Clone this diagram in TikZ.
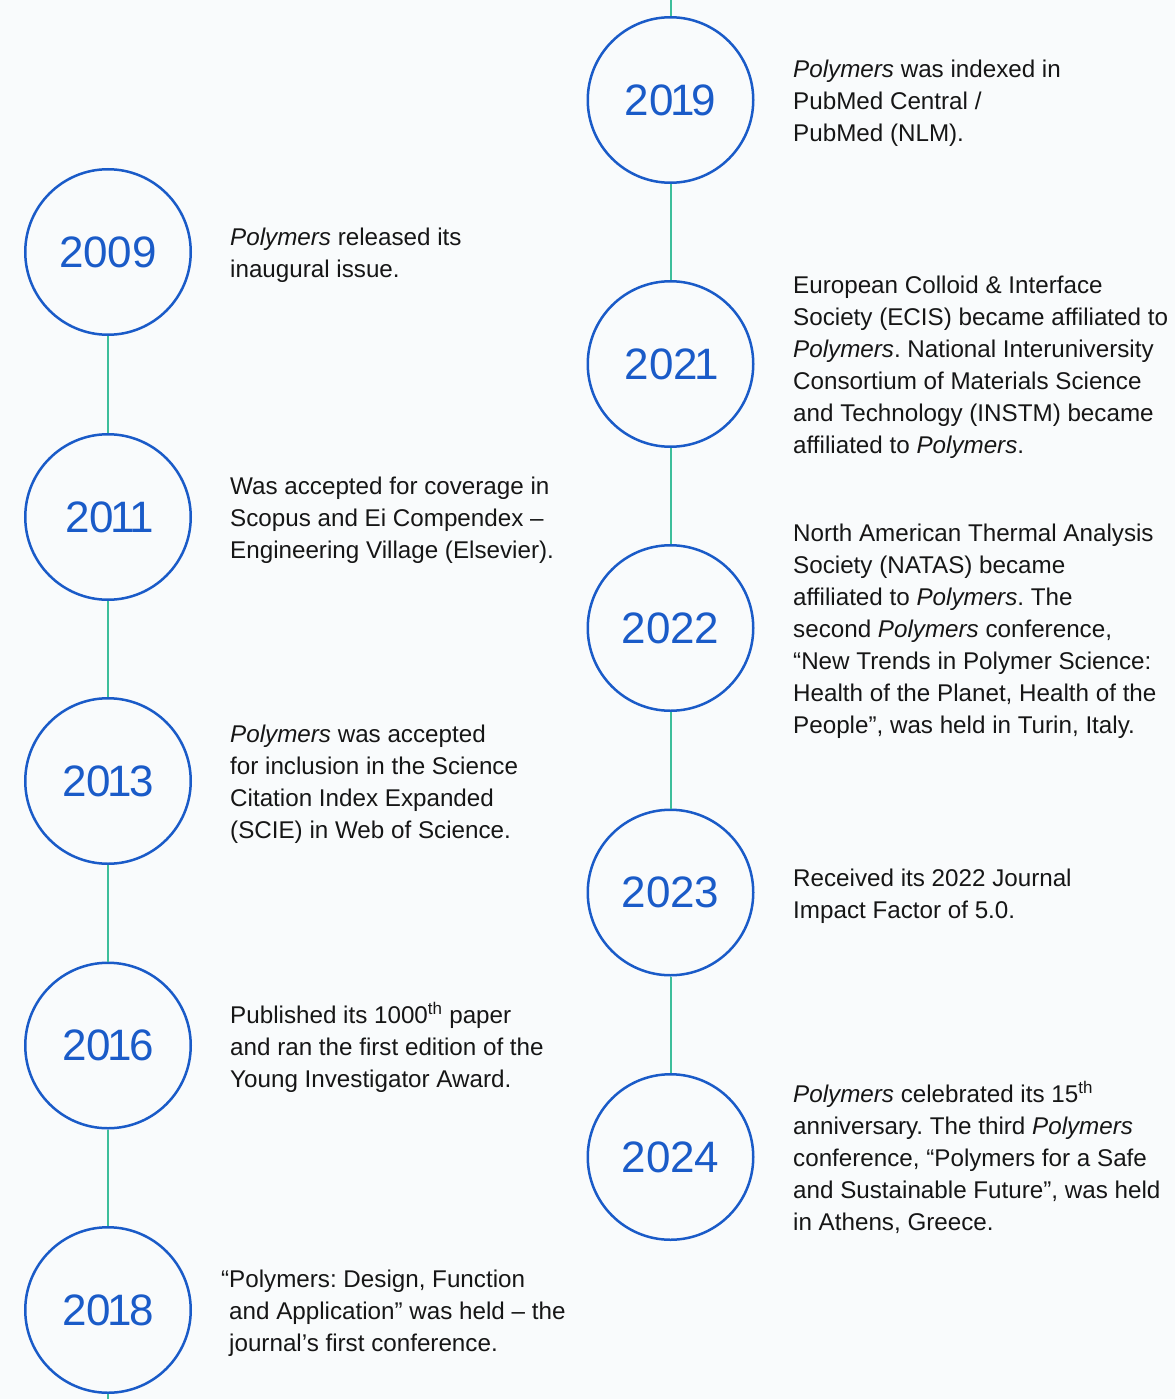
\documentclass[tikz,border=0pt]{standalone}
\usepackage{fontspec}
\setmainfont{Liberation Sans}
\frenchspacing
\definecolor{bg}{HTML}{F9FBFC}
\definecolor{ringblue}{HTML}{1A5BC8}
\definecolor{linkteal}{HTML}{3DBE9B}
\definecolor{ink}{HTML}{161616}
\newcommand\yone{\kern-3pt1\kern-3pt}
\begin{document}
\begin{tikzpicture}[x=1pt,y=-1pt,
  year/.style={circle, draw=ringblue, line width=2.5pt, minimum size=165.5pt, inner sep=0pt, text=ringblue, font=\fontsize{44}{50}\selectfont},
  desc/.style={anchor=west, align=left, text=ink, inner sep=0pt, yshift=-3.5pt, font=\fontsize{24.2}{32}\selectfont\frenchspacing},
  link/.style={draw=linkteal, line width=2pt}]
\fill[bg] (0,0) rectangle (1175,1399);
\useasboundingbox (0,0) rectangle (1175,1399);

% left column
\node[year] (y2009) at (108,252) {2009};
\node[year] (y2011) at (108,517) {20\yone\yone};
\node[year] (y2013) at (108,781) {20\yone3};
\node[year] (y2016) at (108,1045.5) {20\yone6};
\node[year] (y2018) at (108,1310) {20\yone8};

% right column
\node[year] (y2019) at (670.5,100) {20\yone9};
\node[year] (y2021) at (670.5,364) {202\yone};
\node[year] (y2022) at (670.5,628) {2022};
\node[year] (y2023) at (670.5,892.5) {2023};
\node[year] (y2024) at (670.5,1157) {2024};

\coordinate (topR) at (670.5,0);
\coordinate (botL) at (108,1399);

\draw[link] (y2009) -- (y2011);
\draw[link] (y2011) -- (y2013);
\draw[link] (y2013) -- (y2016);
\draw[link] (y2016) -- (y2018);
\draw[link] (y2018) -- (botL);
\draw[link] (topR) -- (y2019);
\draw[link] (y2019) -- (y2021);
\draw[link] (y2021) -- (y2022);
\draw[link] (y2022) -- (y2023);
\draw[link] (y2023) -- (y2024);

% descriptions left
\node[desc] (t2009) at (230,252) {\strut\textit{Polymers} released its\\inaugural issue.\strut};
\node[desc] (t2011) at (230,517) {\strut Was accepted for coverage in\\Scopus and Ei Compendex –\\Engineering Village (Elsevier).\strut};
\node[desc] (t2013) at (230,781) {\strut\textit{Polymers} was accepted\\for inclusion in the Science\\Citation Index Expanded\\(SCIE) in Web of Science.\strut};
\node[desc] (t2016) at (230,1045.5) {\strut Published its 1000\textsuperscript{th} paper\\and ran the first edition of the\\Young Investigator Award.\strut};
\node[desc] (t2018) at (229,1310) {\strut\llap{“}Polymers: Design, Function\\and Application” was held – the\\journal’s first conference.\strut};

% descriptions right
\node[desc] (t2019) at (793,100) {\strut\textit{Polymers} was indexed in\\PubMed Central /\\PubMed (NLM).\strut};
\node[desc] (t2021) at (793,364) {\strut European Colloid \& Interface\\Society (ECIS) became affiliated to\\\textit{Polymers}. National Interuniversity\\Consortium of Materials Science\\and Technology (INSTM) became\\affiliated to \textit{Polymers}.\strut};
\node[desc] (t2022) at (793,628) {\strut North American Thermal Analysis\\Society (NATAS) became\\affiliated to \textit{Polymers}. The\\second \textit{Polymers} conference,\\“New Trends in Polymer Science:\\Health of the Planet, Health of the\\People”, was held in Turin, Italy.\strut};
\node[desc] (t2023) at (793,892.5) {\strut Received its 2022 Journal\\Impact Factor of 5.0.\strut};
\node[desc] (t2024) at (793,1157) {\strut\textit{Polymers} celebrated its 15\textsuperscript{th}\\anniversary. The third \textit{Polymers}\\conference, “Polymers for a Safe\\and Sustainable Future”, was held\\in Athens, Greece.\strut};
\end{tikzpicture}
\end{document}
